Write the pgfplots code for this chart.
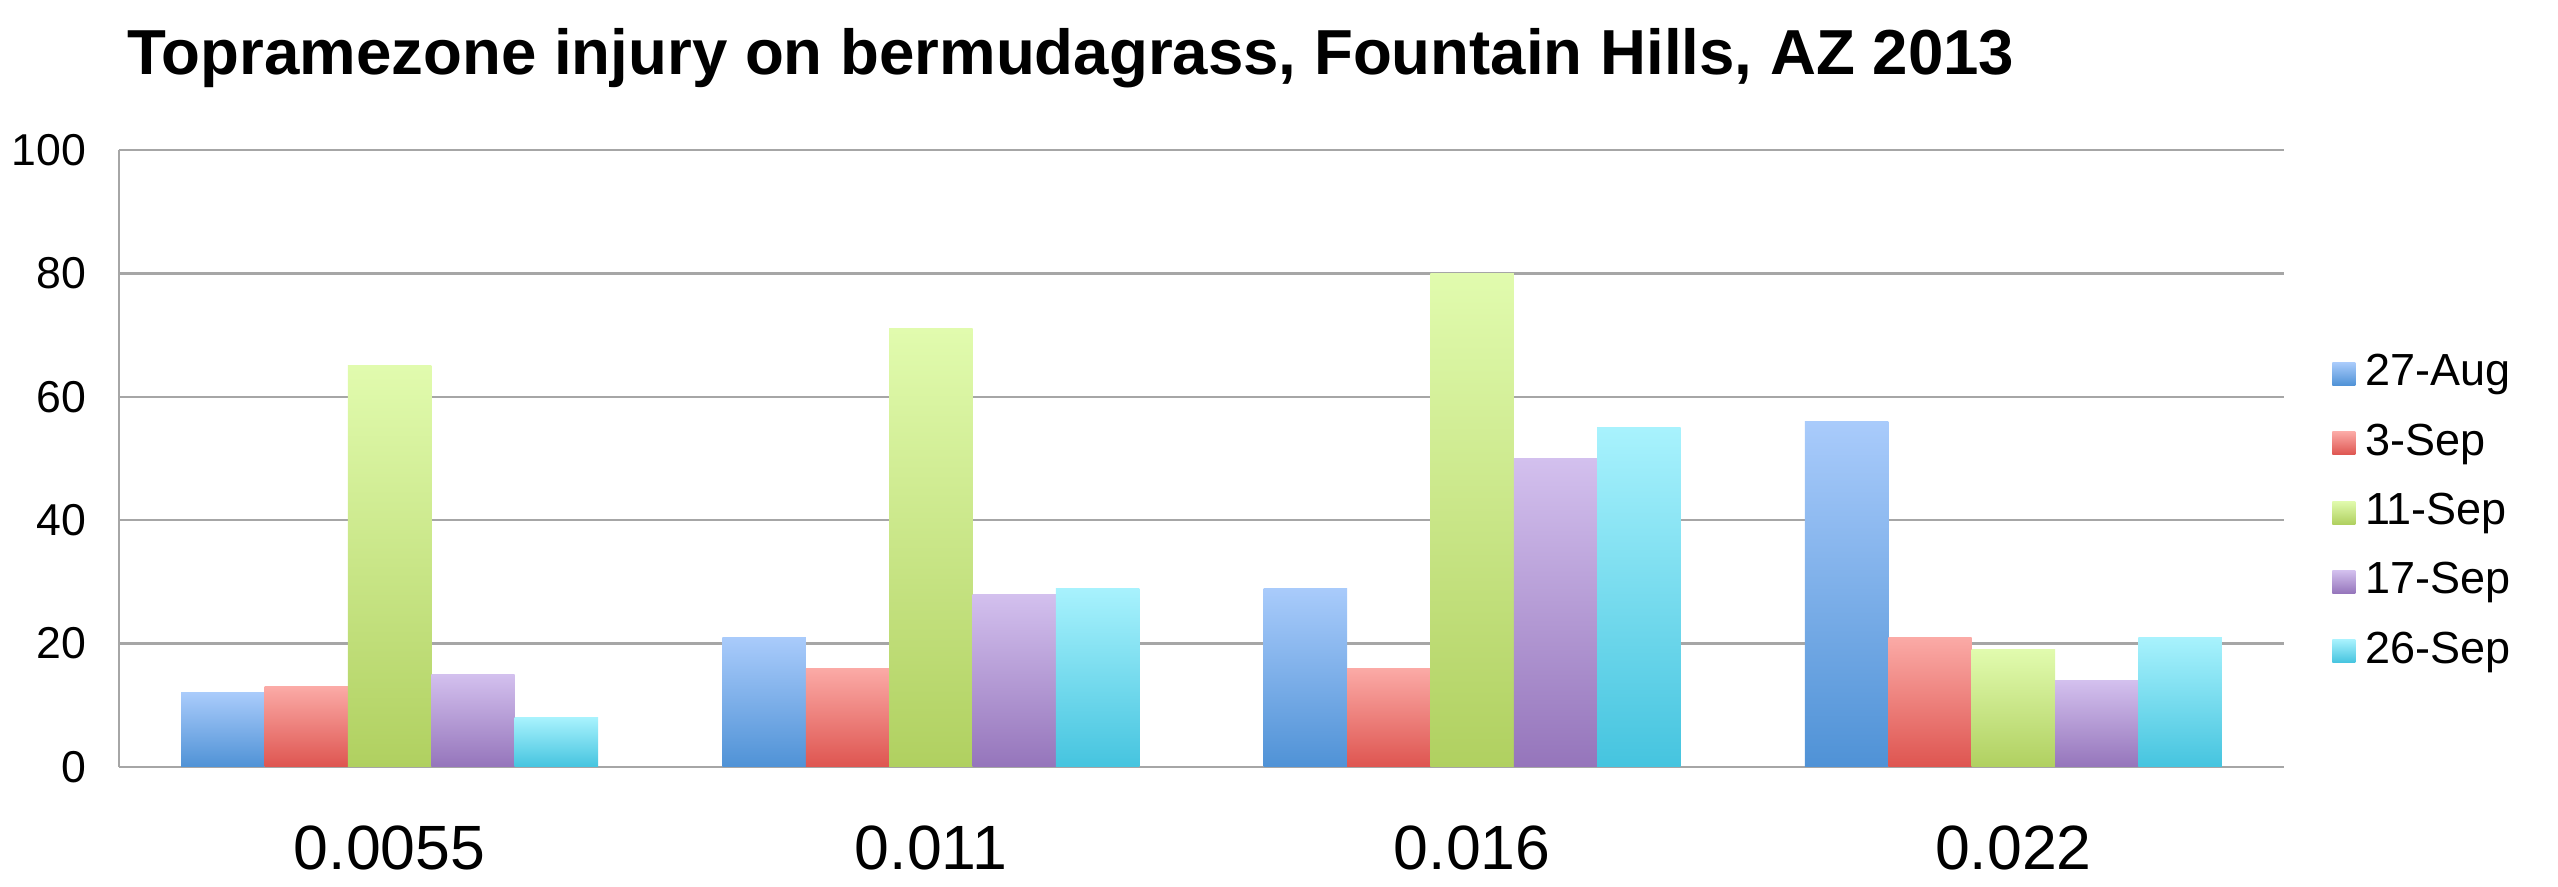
\documentclass[border=0pt]{standalone}
\usepackage{pgfplots}
\pgfplotsset{compat=1.18}
\usepackage{fontspec}
\setmainfont{Liberation Sans}
\definecolor{gridc}{HTML}{A6A6A6}
\definecolor{bT}{HTML}{A9CBFB}\definecolor{bB}{HTML}{4F92D6}
\definecolor{rT}{HTML}{FBAAA6}\definecolor{rB}{HTML}{DE5550}
\definecolor{gT}{HTML}{E1FBAE}\definecolor{gB}{HTML}{B0D060}
\definecolor{pT}{HTML}{D3C0EE}\definecolor{pB}{HTML}{9575BB}
\definecolor{cT}{HTML}{A8F2FD}\definecolor{cB}{HTML}{45C4DF}
\pgfplotsset{
  sA/.style={draw=none, top color=bT, bottom color=bB, bar shift=-1.668cm},
  sB/.style={draw=none, top color=rT, bottom color=rB, bar shift=-0.834cm},
  sC/.style={draw=none, top color=gT, bottom color=gB, bar shift=0cm},
  sD/.style={draw=none, top color=pT, bottom color=pB, bar shift=0.834cm},
  sE/.style={draw=none, top color=cT, bottom color=cB, bar shift=1.668cm},
}
\begin{document}
\begin{tikzpicture}
\useasboundingbox (-1.19cm,-1.20cm) rectangle (24.39cm,7.67cm);
\begin{axis}[
  at={(0,0)}, anchor=south west,
  scale only axis, width=21.65cm, height=6.17cm,
  ybar, bar width=0.834cm,
  xmin=-0.5, xmax=3.5, ymin=0, ymax=100,
  xtick={0,1,2,3}, xticklabels={0.0055,0.011,0.016,0.022},
  ytick={0,20,40,60,80,100},
  ymajorgrids, grid style={gridc, line width=0.7pt},
  major tick length=0pt,
  axis x line*=bottom, axis y line*=left,
  axis line style={gridc, line width=0.7pt, -},
  /pgf/number format/assume math mode=true,
  yticklabel style={font=\fontsize{12.7}{15}\selectfont, inner sep=0pt, anchor=east, xshift=-0.32cm},
  xticklabel style={font=\fontsize{17.8}{20}\selectfont, inner sep=0pt, anchor=base, yshift=-1.03cm},
  legend cell align=left,
  legend style={draw=none, fill=none, at={(1.0172,0.4124)}, anchor=west,
    font=\fontsize{12.8}{15}\selectfont, row sep=0.218cm,
    nodes={inner sep=0.5pt, text height=0.34cm, text depth=0.1cm},
    /tikz/every odd column/.append style={column sep=0.08cm}},
  legend image code/.code={\path[#1] (0cm,-0.115cm) rectangle (0.23cm,0.115cm);},
]
% 27-Aug
\addplot[sA, forget plot] coordinates {(0,12)};
\addplot[sA, forget plot] coordinates {(1,21)};
\addplot[sA, forget plot] coordinates {(2,29)};
\addplot[sA, forget plot] coordinates {(3,56)};
% 3-Sep
\addplot[sB, forget plot] coordinates {(0,13)};
\addplot[sB, forget plot] coordinates {(1,16)};
\addplot[sB, forget plot] coordinates {(2,16)};
\addplot[sB, forget plot] coordinates {(3,21)};
% 11-Sep
\addplot[sC, forget plot] coordinates {(0,65)};
\addplot[sC, forget plot] coordinates {(1,71)};
\addplot[sC, forget plot] coordinates {(2,80)};
\addplot[sC, forget plot] coordinates {(3,19)};
% 17-Sep
\addplot[sD, forget plot] coordinates {(0,15)};
\addplot[sD, forget plot] coordinates {(1,28)};
\addplot[sD, forget plot] coordinates {(2,50)};
\addplot[sD, forget plot] coordinates {(3,14)};
% 26-Sep
\addplot[sE, forget plot] coordinates {(0,8)};
\addplot[sE, forget plot] coordinates {(1,29)};
\addplot[sE, forget plot] coordinates {(2,55)};
\addplot[sE, forget plot] coordinates {(3,21)};
\addlegendimage{draw=none, top color=bT, bottom color=bB}
\addlegendentry{27-Aug}
\addlegendimage{draw=none, top color=rT, bottom color=rB}
\addlegendentry{3-Sep}
\addlegendimage{draw=none, top color=gT, bottom color=gB}
\addlegendentry{11-Sep}
\addlegendimage{draw=none, top color=pT, bottom color=pB}
\addlegendentry{17-Sep}
\addlegendimage{draw=none, top color=cT, bottom color=cB}
\addlegendentry{26-Sep}
\end{axis}
\node[anchor=base west, inner sep=0pt, font=\bfseries\fontsize{18.1}{21}\selectfont] at (0.08cm,6.92cm) {Topramezone injury on bermudagrass, Fountain Hills, AZ 2013};
\end{tikzpicture}
\end{document}
